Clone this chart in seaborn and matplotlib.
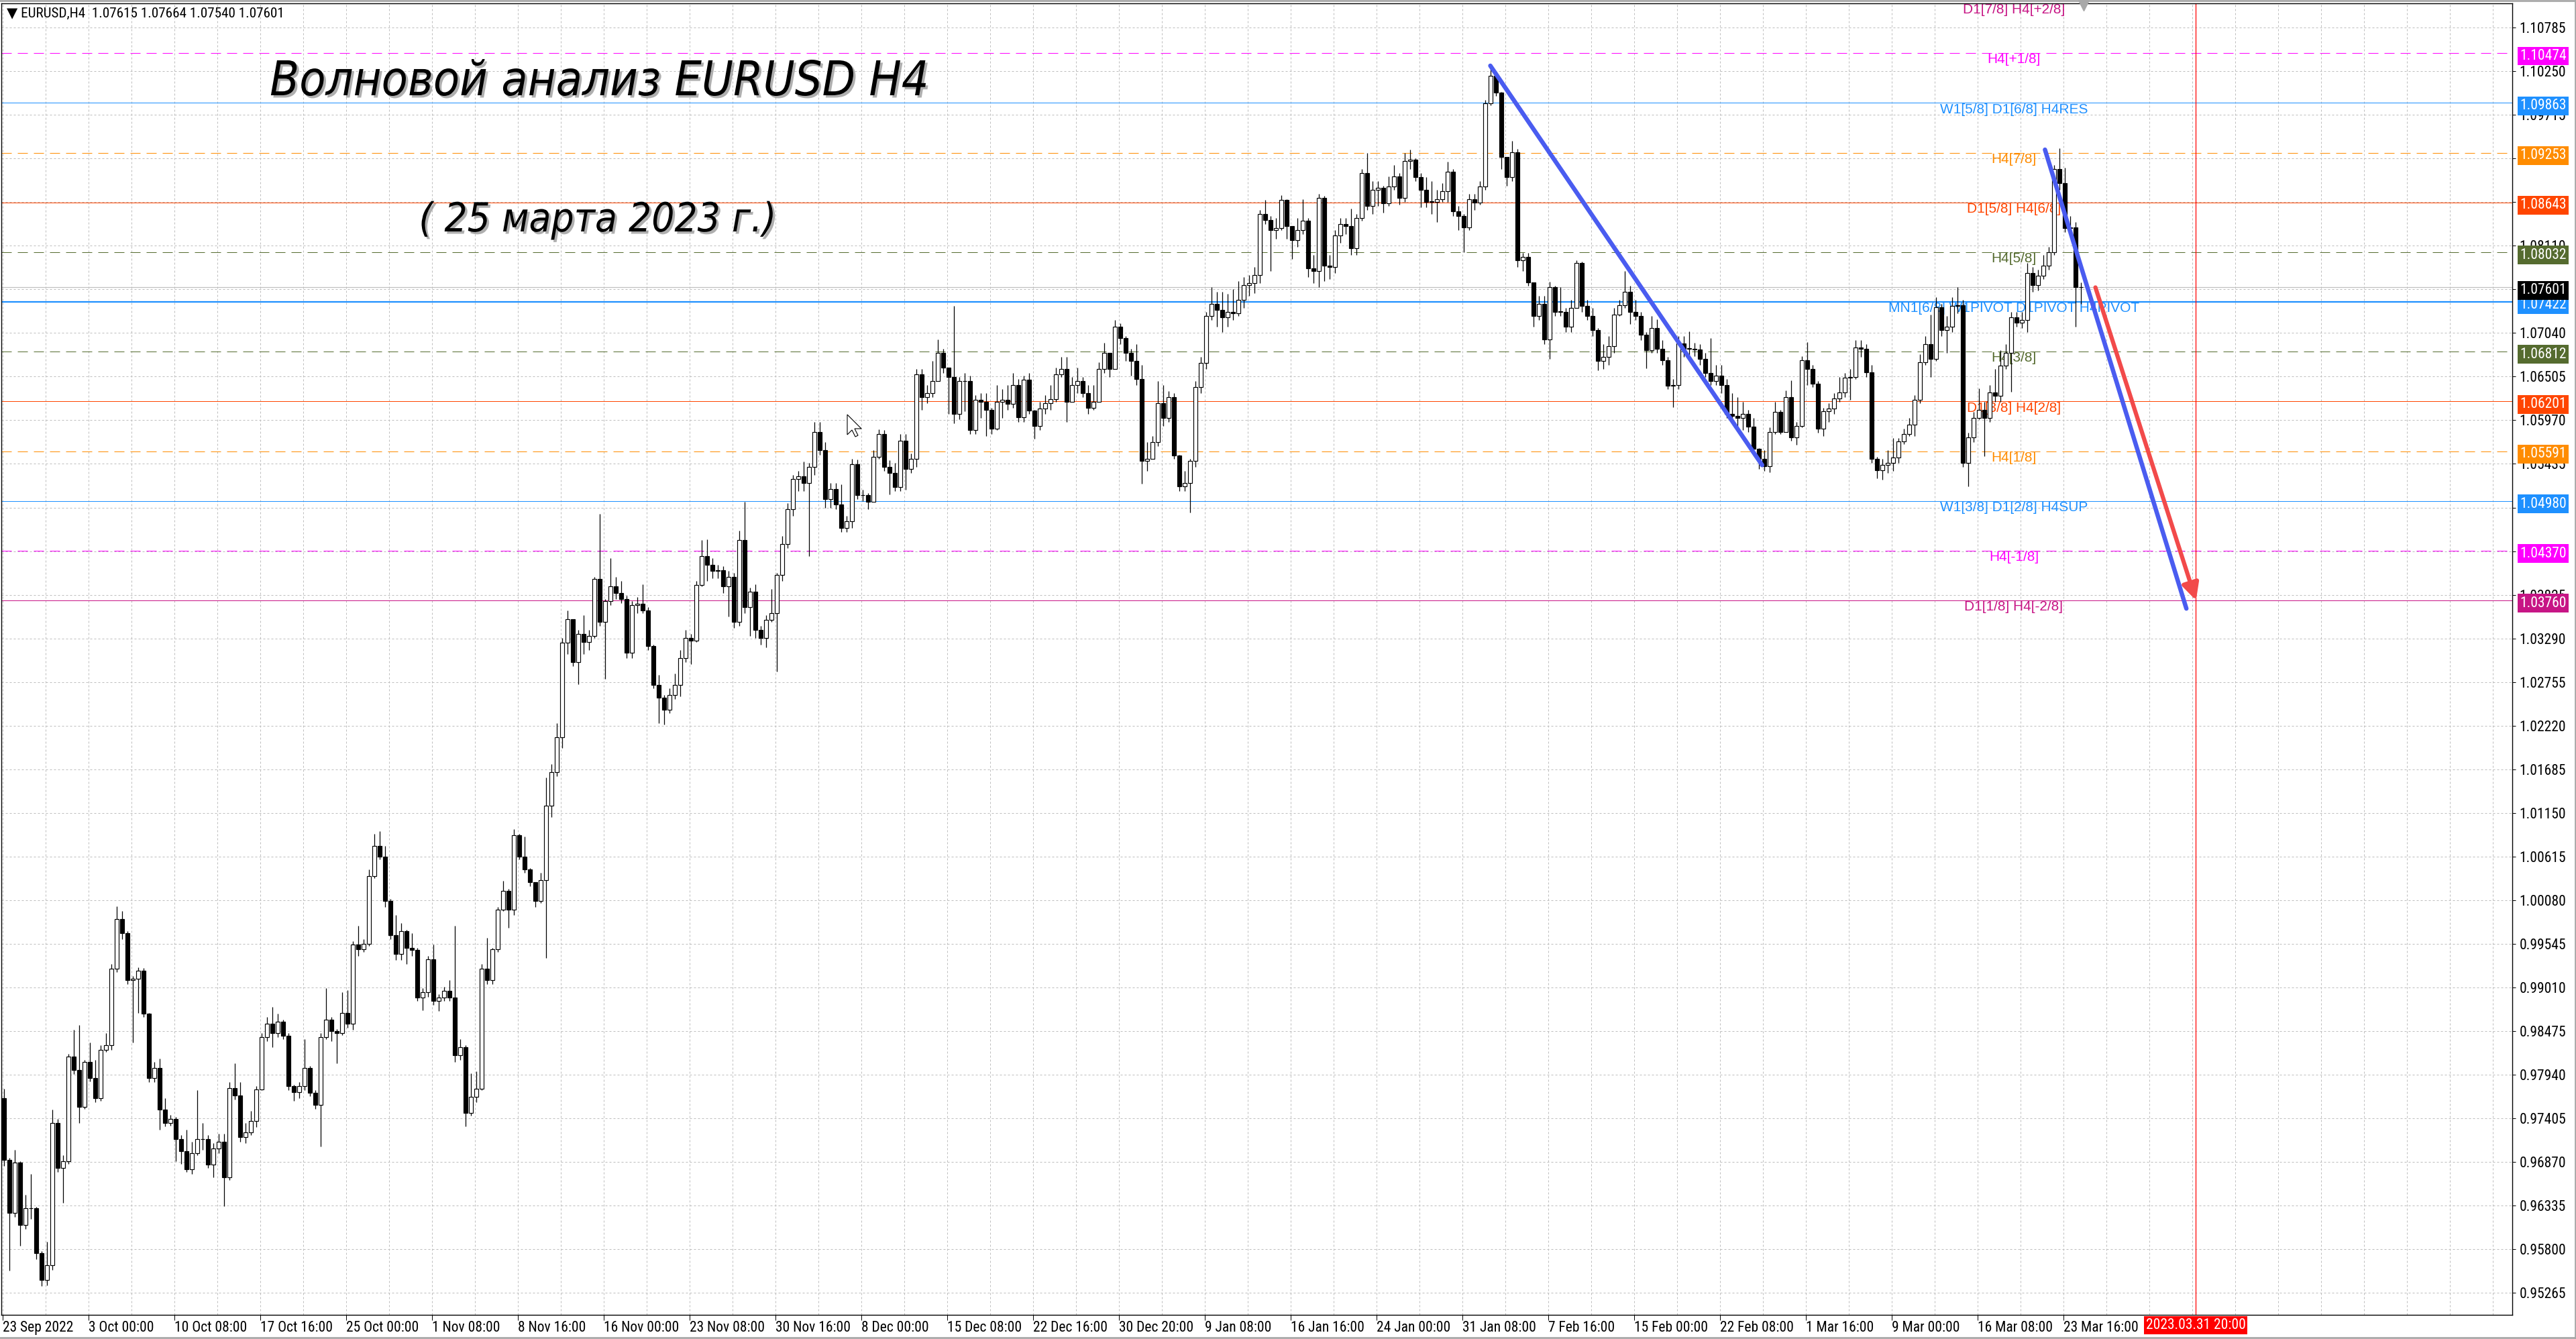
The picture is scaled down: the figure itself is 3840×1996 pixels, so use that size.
import os
import numpy as np
import pandas as pd
import matplotlib
matplotlib.use("Agg")
import matplotlib.pyplot as plt
import matplotlib.patheffects as pe
import matplotlib.transforms as mtransforms
from matplotlib import font_manager
from matplotlib.font_manager import FontProperties
from matplotlib.patches import Polygon
from matplotlib.lines import Line2D
import seaborn as sns

# ------------------------------------------------------------------ data
# EURUSD candles (each candle = two H4 bars)
OPEN_FIRST = 0.9765
CLOSE = [
    0.9690, 0.9625, 0.9686, 0.9610, 0.9630, 0.9630, 0.9575, 0.9542, 0.9560, 0.9735,
    0.9680, 0.9688, 0.9816, 0.9800, 0.9755, 0.9810, 0.9790, 0.9765, 0.9825, 0.9830,
    0.9924, 0.9985, 0.9968, 0.9910, 0.9912, 0.9922, 0.9869, 0.9790, 0.9802, 0.9751,
    0.9735, 0.9740, 0.9715, 0.9700, 0.9678, 0.9698, 0.9715, 0.9715, 0.9684, 0.9704,
    0.9712, 0.9668, 0.9778, 0.9769, 0.9718, 0.9723, 0.9737, 0.9776, 0.9840, 0.9857,
    0.9845, 0.9859, 0.9842, 0.9780, 0.9773, 0.9780, 0.9802, 0.9772, 0.9757, 0.9840,
    0.9862, 0.9848, 0.9845, 0.9870, 0.9857, 0.9954, 0.9948, 0.9955, 1.0038, 1.0075,
    1.0062, 1.0007, 0.9965, 0.9942, 0.9970, 0.9950, 0.9947, 0.9889, 0.9895, 0.9936,
    0.9885, 0.9889, 0.9897, 0.9889, 0.9818, 0.9828, 0.9747, 0.9767, 0.9777, 0.9924,
    0.9910, 0.9948, 0.9997, 1.0020, 0.9997, 1.0088, 1.0062, 1.0046, 1.0030, 1.0007,
    1.0033, 1.0124, 1.0165, 1.0208, 1.0324, 1.0353, 1.0300, 1.0335, 1.0325, 1.0332,
    1.0402, 1.0350, 1.0375, 1.0393, 1.0385, 1.0378, 1.0312, 1.0370, 1.0372, 1.0364,
    1.0320, 1.0272, 1.0257, 1.0242, 1.0260, 1.0272, 1.0305, 1.0330, 1.0327, 1.0395,
    1.0430, 1.0420, 1.0412, 1.0413, 1.0393, 1.0405, 1.0350, 1.0450, 1.0368, 1.0387,
    1.0340, 1.0330, 1.0352, 1.0360, 1.0407, 1.0445, 1.0488, 1.0525, 1.0528, 1.0520,
    1.0540, 1.0583, 1.0560, 1.0500, 1.0513, 1.0494, 1.0465, 1.0473, 1.0543, 1.0505,
    1.0505, 1.0497, 1.0552, 1.0580, 1.0540, 1.0532, 1.0515, 1.0572, 1.0537, 1.0550,
    1.0653, 1.0625, 1.0630, 1.0645, 1.0680, 1.0662, 1.0650, 1.0605, 1.0645, 1.0645,
    1.0585, 1.0622, 1.0620, 1.0610, 1.0587, 1.0620, 1.0622, 1.0617, 1.0640, 1.0601,
    1.0647, 1.0609, 1.0590, 1.0611, 1.0618, 1.0623, 1.0653, 1.0660, 1.0620, 1.0640,
    1.0645, 1.0630, 1.0612, 1.0620, 1.0660, 1.0680, 1.0660, 1.0712, 1.0698, 1.0680,
    1.0670, 1.0648, 1.0547, 1.0550, 1.0570, 1.0618, 1.0600, 1.0625, 1.0554, 1.0516,
    1.0520, 1.0547, 1.0638, 1.0667, 1.0725, 1.0740, 1.0732, 1.0723, 1.0730, 1.0728,
    1.0745, 1.0763, 1.0765, 1.0775, 1.0850, 1.0843, 1.0830, 1.0833, 1.0867, 1.0835,
    1.0818, 1.0830, 1.0842, 1.0783, 1.0780, 1.0870, 1.0787, 1.0785, 1.0824, 1.0838,
    1.0835, 1.0808, 1.0845, 1.0900, 1.0860, 1.0880, 1.0882, 1.0863, 1.0884, 1.0896,
    1.0870, 1.0915, 1.0917, 1.0895, 1.0880, 1.0865, 1.0865, 1.0868, 1.0878, 1.0902,
    1.0853, 1.0848, 1.0834, 1.0868, 1.0864, 1.0884, 1.0986, 1.1020, 1.0999, 1.0920,
    1.0895, 1.0926, 1.0793, 1.0797, 1.0766, 1.0725, 1.0740, 1.0696, 1.0760, 1.0730,
    1.0730, 1.0712, 1.0735, 1.0790, 1.0737, 1.0725, 1.0708, 1.0670, 1.0675, 1.0688,
    1.0727, 1.0738, 1.0755, 1.0730, 1.0725, 1.0702, 1.0683, 1.0710, 1.0685, 1.0671,
    1.0639, 1.0640, 1.0691, 1.0685, 1.0685, 1.0684, 1.0672, 1.0655, 1.0645, 1.0652,
    1.0640, 1.0605, 1.0602, 1.0600, 1.0605, 1.0589, 1.0562, 1.0550, 1.0541, 1.0583,
    1.0607, 1.0583, 1.0625, 1.0576, 1.0590, 1.0671, 1.0660, 1.0642, 1.0587, 1.0608,
    1.0611, 1.0624, 1.0631, 1.0649, 1.0650, 1.0686, 1.0685, 1.0656, 1.0550, 1.0536,
    1.0542, 1.0545, 1.0551, 1.0571, 1.0580, 1.0592, 1.0622, 1.0668, 1.0690, 1.0672,
    1.0736, 1.0708, 1.0712, 1.0737, 1.0738, 1.0545, 1.0576, 1.0600, 1.0610, 1.0600,
    1.0631, 1.0627, 1.0664, 1.0680, 1.0723, 1.0717, 1.0720, 1.0778, 1.0763, 1.0774,
    1.0787, 1.0803, 1.0905, 1.0888, 1.0833, 1.0834, 1.0760, 1.0760,
]
HIGH = [
    0.9777, 0.9692, 0.9702, 0.9688, 0.9647, 0.9672, 0.9632, 0.9578, 0.9589, 0.9751,
    0.9740, 0.9695, 0.9820, 0.9849, 0.9855, 0.9812, 0.9834, 0.9812, 0.9830, 0.9845,
    0.9930, 1.0001, 0.9995, 0.9970, 0.9915, 0.9926, 0.9925, 0.9870, 0.9810, 0.9814,
    0.9765, 0.9745, 0.9742, 0.9720, 0.9727, 0.9712, 0.9775, 0.9735, 0.9720, 0.9710,
    0.9722, 0.9722, 0.9785, 0.9808, 0.9785, 0.9735, 0.9750, 0.9780, 0.9845, 0.9865,
    0.9877, 0.9869, 0.9862, 0.9845, 0.9782, 0.9785, 0.9838, 0.9805, 0.9775, 0.9845,
    0.9900, 0.9865, 0.9850, 0.9895, 0.9898, 0.9958, 0.9977, 0.9960, 1.0046, 1.0090,
    1.0093, 1.0075, 1.0010, 0.9990, 0.9980, 0.9972, 0.9968, 0.9950, 0.9900, 0.9940,
    0.9954, 0.9893, 0.9902, 0.9910, 0.9977, 0.9838, 0.9830, 0.9796, 0.9798, 0.9930,
    0.9962, 0.9950, 1.0000, 1.0032, 1.0022, 1.0095, 1.0090, 1.0086, 1.0048, 1.0030,
    1.0042, 1.0159, 1.0175, 1.0225, 1.0330, 1.0364, 1.0340, 1.0340, 1.0358, 1.0340,
    1.0405, 1.0482, 1.0378, 1.0428, 1.0405, 1.0400, 1.0382, 1.0375, 1.0380, 1.0396,
    1.0368, 1.0322, 1.0285, 1.0260, 1.0268, 1.0286, 1.0315, 1.0340, 1.0335, 1.0400,
    1.0450, 1.0451, 1.0428, 1.0420, 1.0418, 1.0412, 1.0410, 1.0462, 1.0497, 1.0392,
    1.0396, 1.0345, 1.0358, 1.0390, 1.0410, 1.0455, 1.0495, 1.0530, 1.0535, 1.0546,
    1.0545, 1.0595, 1.0595, 1.0570, 1.0520, 1.0520, 1.0518, 1.0480, 1.0550, 1.0549,
    1.0512, 1.0508, 1.0560, 1.0586, 1.0585, 1.0548, 1.0545, 1.0580, 1.0580, 1.0556,
    1.0660, 1.0660, 1.0640, 1.0670, 1.0696, 1.0685, 1.0662, 1.0737, 1.0650, 1.0655,
    1.0652, 1.0628, 1.0630, 1.0630, 1.0612, 1.0640, 1.0635, 1.0640, 1.0655, 1.0648,
    1.0652, 1.0655, 1.0610, 1.0620, 1.0628, 1.0640, 1.0662, 1.0675, 1.0675, 1.0650,
    1.0662, 1.0650, 1.0640, 1.0640, 1.0668, 1.0692, 1.0680, 1.0720, 1.0716, 1.0700,
    1.0685, 1.0690, 1.0665, 1.0570, 1.0578, 1.0645, 1.0640, 1.0633, 1.0630, 1.0555,
    1.0535, 1.0550, 1.0645, 1.0675, 1.0730, 1.0760, 1.0755, 1.0755, 1.0752, 1.0758,
    1.0768, 1.0773, 1.0775, 1.0785, 1.0855, 1.0867, 1.0848, 1.0845, 1.0873, 1.0868,
    1.0830, 1.0845, 1.0868, 1.0845, 1.0800, 1.0875, 1.0872, 1.0800, 1.0830, 1.0845,
    1.0845, 1.0857, 1.0850, 1.0905, 1.0925, 1.0890, 1.0890, 1.0885, 1.0896, 1.0910,
    1.0900, 1.0925, 1.0929, 1.0918, 1.0900, 1.0895, 1.0890, 1.0880, 1.0888, 1.0914,
    1.0905, 1.0860, 1.0850, 1.0875, 1.0875, 1.0890, 1.0990, 1.1032, 1.1025, 1.1000,
    1.0920, 1.0940, 1.0930, 1.0802, 1.0802, 1.0766, 1.0750, 1.0750, 1.0767, 1.0762,
    1.0760, 1.0735, 1.0745, 1.0793, 1.0792, 1.0745, 1.0735, 1.0710, 1.0690, 1.0700,
    1.0735, 1.0745, 1.0780, 1.0762, 1.0745, 1.0730, 1.0705, 1.0725, 1.0721, 1.0695,
    1.0675, 1.0648, 1.0700, 1.0700, 1.0706, 1.0692, 1.0690, 1.0680, 1.0698, 1.0665,
    1.0665, 1.0648, 1.0630, 1.0625, 1.0620, 1.0610, 1.0600, 1.0563, 1.0560, 1.0588,
    1.0620, 1.0610, 1.0634, 1.0646, 1.0595, 1.0676, 1.0693, 1.0665, 1.0645, 1.0612,
    1.0618, 1.0630, 1.0650, 1.0655, 1.0660, 1.0695, 1.0695, 1.0690, 1.0665, 1.0552,
    1.0550, 1.0560, 1.0575, 1.0575, 1.0587, 1.0600, 1.0628, 1.0678, 1.0700, 1.0727,
    1.0748, 1.0740, 1.0725, 1.0748, 1.0760, 1.0745, 1.0582, 1.0607, 1.0636, 1.0620,
    1.0640, 1.0660, 1.0683, 1.0690, 1.0730, 1.0730, 1.0730, 1.0790, 1.0785, 1.0782,
    1.0800, 1.0810, 1.0910, 1.0931, 1.0907, 1.0848, 1.0840, 1.0766,
]
LOW = [
    0.9682, 0.9554, 0.9620, 0.9584, 0.9605, 0.9617, 0.9568, 0.9535, 0.9536, 0.9555,
    0.9675, 0.9637, 0.9685, 0.9795, 0.9735, 0.9752, 0.9786, 0.9760, 0.9762, 0.9822,
    0.9825, 0.9920, 0.9960, 0.9905, 0.9834, 0.9870, 0.9865, 0.9785, 0.9785, 0.9727,
    0.9731, 0.9732, 0.9688, 0.9685, 0.9675, 0.9672, 0.9695, 0.9702, 0.9680, 0.9668,
    0.9698, 0.9633, 0.9665, 0.9764, 0.9712, 0.9710, 0.9720, 0.9730, 0.9775, 0.9835,
    0.9828, 0.9840, 0.9838, 0.9775, 0.9762, 0.9765, 0.9775, 0.9768, 0.9752, 0.9706,
    0.9838, 0.9835, 0.9808, 0.9843, 0.9852, 0.9849, 0.9940, 0.9945, 0.9952, 1.0035,
    1.0058, 1.0000, 0.9960, 0.9935, 0.9935, 0.9930, 0.9940, 0.9885, 0.9873, 0.9890,
    0.9880, 0.9872, 0.9885, 0.9885, 0.9810, 0.9812, 0.9731, 0.9744, 0.9760, 0.9775,
    0.9905, 0.9905, 0.9945, 0.9995, 0.9974, 0.9990, 1.0058, 1.0042, 1.0025, 1.0000,
    1.0005, 0.9937, 1.0110, 1.0160, 1.0195, 1.0310, 1.0295, 1.0273, 1.0310, 1.0315,
    1.0330, 1.0345, 1.0280, 1.0370, 1.0378, 1.0373, 1.0305, 1.0305, 1.0360, 1.0360,
    1.0315, 1.0268, 1.0225, 1.0224, 1.0238, 1.0255, 1.0258, 1.0300, 1.0298, 1.0325,
    1.0393, 1.0400, 1.0403, 1.0403, 1.0385, 1.0356, 1.0342, 1.0345, 1.0360, 1.0332,
    1.0330, 1.0322, 1.0318, 1.0350, 1.0289, 1.0400, 1.0440, 1.0480, 1.0510, 1.0510,
    1.0430, 1.0530, 1.0555, 1.0490, 1.0490, 1.0488, 1.0460, 1.0460, 1.0465, 1.0500,
    1.0498, 1.0488, 1.0497, 1.0550, 1.0535, 1.0506, 1.0510, 1.0510, 1.0512, 1.0532,
    1.0540, 1.0610, 1.0618, 1.0625, 1.0645, 1.0655, 1.0605, 1.0593, 1.0598, 1.0608,
    1.0580, 1.0580, 1.0600, 1.0578, 1.0580, 1.0585, 1.0600, 1.0610, 1.0612, 1.0595,
    1.0595, 1.0605, 1.0574, 1.0585, 1.0605, 1.0610, 1.0620, 1.0650, 1.0595, 1.0620,
    1.0630, 1.0625, 1.0605, 1.0610, 1.0620, 1.0655, 1.0650, 1.0660, 1.0690, 1.0670,
    1.0652, 1.0640, 1.0519, 1.0535, 1.0550, 1.0565, 1.0590, 1.0595, 1.0550, 1.0510,
    1.0510, 1.0484, 1.0540, 1.0630, 1.0660, 1.0720, 1.0712, 1.0705, 1.0712, 1.0720,
    1.0725, 1.0735, 1.0750, 1.0753, 1.0765, 1.0838, 1.0780, 1.0820, 1.0830, 1.0820,
    1.0795, 1.0810, 1.0825, 1.0773, 1.0765, 1.0760, 1.0768, 1.0770, 1.0778, 1.0815,
    1.0825, 1.0800, 1.0800, 1.0842, 1.0855, 1.0850, 1.0860, 1.0852, 1.0860, 1.0880,
    1.0862, 1.0865, 1.0905, 1.0890, 1.0858, 1.0858, 1.0850, 1.0840, 1.0865, 1.0865,
    1.0848, 1.0830, 1.0803, 1.0830, 1.0855, 1.0862, 1.0880, 1.0983, 1.0995, 1.0905,
    1.0885, 1.0890, 1.0785, 1.0780, 1.0762, 1.0712, 1.0720, 1.0690, 1.0672, 1.0725,
    1.0725, 1.0705, 1.0705, 1.0735, 1.0730, 1.0720, 1.0700, 1.0658, 1.0660, 1.0665,
    1.0680, 1.0725, 1.0735, 1.0715, 1.0720, 1.0695, 1.0661, 1.0680, 1.0680, 1.0665,
    1.0635, 1.0613, 1.0635, 1.0675, 1.0675, 1.0676, 1.0665, 1.0650, 1.0640, 1.0640,
    1.0630, 1.0600, 1.0595, 1.0588, 1.0585, 1.0583, 1.0555, 1.0537, 1.0535, 1.0533,
    1.0580, 1.0580, 1.0590, 1.0572, 1.0567, 1.0588, 1.0640, 1.0638, 1.0582, 1.0578,
    1.0595, 1.0605, 1.0620, 1.0625, 1.0622, 1.0648, 1.0675, 1.0650, 1.0545, 1.0526,
    1.0524, 1.0532, 1.0535, 1.0545, 1.0568, 1.0578, 1.0578, 1.0618, 1.0665, 1.0650,
    1.0670, 1.0700, 1.0680, 1.0705, 1.0728, 1.0540, 1.0516, 1.0570, 1.0598, 1.0553,
    1.0595, 1.0620, 1.0620, 1.0660, 1.0632, 1.0712, 1.0710, 1.0705, 1.0755, 1.0756,
    1.0770, 1.0782, 1.0800, 1.0880, 1.0828, 1.0828, 1.0712, 1.0740,
]

X_TICK_LABELS = [
    "23 Sep 2022", "3 Oct 00:00", "10 Oct 08:00", "17 Oct 16:00", "25 Oct 00:00",
    "1 Nov 08:00", "8 Nov 16:00", "16 Nov 00:00", "23 Nov 08:00", "30 Nov 16:00",
    "8 Dec 00:00", "15 Dec 08:00", "22 Dec 16:00", "30 Dec 20:00", "9 Jan 08:00",
    "16 Jan 16:00", "24 Jan 00:00", "31 Jan 08:00", "7 Feb 16:00", "15 Feb 00:00",
    "22 Feb 08:00", "1 Mar 16:00", "9 Mar 00:00", "16 Mar 08:00", "23 Mar 16:00",
]
FUTURE_LABEL = "2023.03.31 20:00"
FUTURE_BAR = 817.25

Y_TICK_LABELS = [
    "0.95265", "0.95800", "0.96335", "0.96870", "0.97405", "0.97940", "0.98475",
    "0.99010", "0.99545", "1.00080", "1.00615", "1.01150", "1.01685", "1.02220",
    "1.02755", "1.03290", "1.03825", "1.04360", "1.04900", "1.05435", "1.05970",
    "1.06505", "1.07040", "1.07575", "1.08110", "1.08645", "1.09180", "1.09715",
    "1.10250", "1.10785",
]
# tick labels that the price boxes cover completely in the picture
Y_TICKS_COVERED = ["1.04360", "1.04900", "1.07575", "1.08645", "1.09180"]

LEVEL_PRICES = [1.10474, 1.09863, 1.09253, 1.08643, 1.08032, 1.07422,
                1.06812, 1.06201, 1.05591, 1.04980, 1.04370, 1.03760]
LEVEL_NAMES = ["H4[+1/8]", "W1[5/8] D1[6/8] H4RES", "H4[7/8]", "D1[5/8] H4[6/8]",
               "H4[5/8]", "MN1[6/8] W1PIVOT D1PIVOT H4PIVOT", "H4[3/8]",
               "D1[3/8] H4[2/8]", "H4[1/8]", "W1[3/8] D1[2/8] H4SUP", "H4[-1/8]",
               "D1[1/8] H4[-2/8]"]
TOP_LEVEL_PRICE = 1.11084
TOP_LEVEL_NAME = "D1[7/8] H4[+2/8]"
LAST_PRICE = 1.07601
HEADER = "▼ EURUSD,H4  1.07615 1.07664 1.07540 1.07601"

TREND1_BARS, TREND1_PRICES = [554.4, 655.7], [1.1032, 1.0542]
TREND2_BARS, TREND2_PRICES = [761.1, 813.8], [1.0929, 1.0366]
ARROW_BARS, ARROW_PRICES = [779.9, 817.4], [1.0760, 1.0376]

TITLE = "Волновой анализ EURUSD H4"
SUBTITLE = "( 25 марта 2023 г.)"

# ------------------------------------------------------------------ styles
C_MAG, C_BLUE, C_ORG, C_ORED, C_OLIVE, C_MVR = ("#FF00FF", "#1E90FF", "#FF8C00",
                                                "#FF4500", "#556B2F", "#C71585")
LEVEL_COLORS = [C_MAG, C_BLUE, C_ORG, C_ORED, C_OLIVE, C_BLUE,
                C_OLIVE, C_ORED, C_ORG, C_BLUE, C_MAG, C_MVR]
LEVEL_DASHED = [True, False, True, False, True, False,
                True, False, True, False, True, False]
LEVEL_WIDTH = [0.72, 0.72, 0.72, 0.72, 0.72, 1.6,
               0.72, 0.72, 0.72, 0.72, 0.72, 0.72]
TREND_BLUE = "#4A5CF0"
ARROW_RED = "#F24A4A"

sns.set_theme(style="white")

avail = {f.name for f in font_manager.fontManager.ttflist}


def pick(*names):
    for n in names:
        if n in avail:
            return n
    return "DejaVu Sans"


NARROW = pick("Liberation Sans Narrow", "DejaVu Sans Condensed", "Roboto Condensed",
              "Liberation Sans")
if "Narrow" in NARROW:
    FS_UI = 18
elif "Condensed" in NARROW:
    FS_UI = 15.5
else:
    FS_UI = 14.5
ARIAL = pick("Liberation Sans", "Arimo", "DejaVu Sans")

# a condensed oblique face for the hand-written looking title, if installed
cond_files = [f.fname for f in font_manager.fontManager.ttflist
              if os.path.basename(f.fname) == "DejaVuSansCondensed-Oblique.ttf"]
if cond_files:
    TITLE_FP = FontProperties(fname=cond_files[0])
else:
    TITLE_FP = FontProperties(family="DejaVu Sans", style="oblique")

plt.rcParams["font.family"] = [NARROW, "DejaVu Sans"]
plt.rcParams["axes.unicode_minus"] = False

W, HP = 3840, 1996
fig = plt.figure(figsize=(W / 100, HP / 100), dpi=100, facecolor="white")
ax = fig.add_axes([2 / W, 1 - 1960 / HP, 3743 / W, 1955 / HP])
ax.set_facecolor("white")
ax.set_xlim(-0.5, 935.25)
ax.set_ylim(0.94995, 1.11085)

# grid
grid_kw = dict(color="#BDBDBD", linewidth=0.72, linestyle=(0, (3, 3)))
ax.set_xticks(np.arange(0, 936, 16), minor=True)
ax.set_xticks(np.arange(len(X_TICK_LABELS)) * 32)
ax.set_xticklabels(X_TICK_LABELS)
ax.xaxis.grid(True, which="both", **grid_kw)
ytick_vals = [float(s) for s in Y_TICK_LABELS]
ax.set_yticks(ytick_vals)
ax.set_yticklabels(["" if s in Y_TICKS_COVERED else s for s in Y_TICK_LABELS])
ax.yaxis.grid(True, which="major", **grid_kw)
ax.set_axisbelow(True)

ax.tick_params(axis="y", which="major", left=False, right=True, labelleft=False,
               labelright=True, direction="out", length=3.6, width=0.72, pad=4,
               labelsize=FS_UI, colors="black")
ax.tick_params(axis="x", which="major", bottom=True, direction="out", length=5.8,
               width=0.72, pad=0.5, labelsize=FS_UI, colors="black")
ax.tick_params(axis="x", which="minor", bottom=False, length=0)
for t in ax.get_xticklabels():
    t.set_horizontalalignment("left")
for sp in ax.spines.values():
    sp.set_color("black")
    sp.set_linewidth(1.0)
    sp.set_visible(True)

# level lines and labels
for price, name, col, dashed, lw in zip(LEVEL_PRICES, LEVEL_NAMES, LEVEL_COLORS,
                                        LEVEL_DASHED, LEVEL_WIDTH):
    ls = (0, (15, 9)) if dashed else "-"
    ax.axhline(price, color=col, linewidth=lw, linestyle=ls, zorder=1.5)
    ax.text(749.5, price - 0.0008, name, color=col, fontsize=15, family=ARIAL,
            ha="center", va="center", zorder=2)
ax.text(749.5, TOP_LEVEL_PRICE - 0.0008, TOP_LEVEL_NAME, color=C_MVR, fontsize=15,
        family=ARIAL, ha="center", va="center", zorder=2)
ax.axhline(LAST_PRICE, color="#C0C0C0", linewidth=0.9, zorder=1.5)
ax.axvline(FUTURE_BAR, color="#FF0000", linewidth=0.9, zorder=1.6)

# candles
O = np.array([OPEN_FIRST] + CLOSE[:-1])
C = np.array(CLOSE)
H = np.maximum(np.array(HIGH), np.maximum(O, C))
L = np.minimum(np.array(LOW), np.minimum(O, C))
xs = np.arange(len(C)) * 2 + 0.5
up = C >= O
ax.vlines(xs, L, H, color="black", linewidth=0.9, zorder=3)
ax.bar(xs, np.maximum(np.abs(C - O), 0.00004), bottom=np.minimum(O, C), width=1.45,
       color=np.where(up, "white", "black"), edgecolor="black", linewidth=0.85,
       zorder=4)

# trend lines (seaborn) and red arrow
for bx, py in ((TREND1_BARS, TREND1_PRICES), (TREND2_BARS, TREND2_PRICES)):
    sns.lineplot(x=bx, y=py, ax=ax, color=TREND_BLUE, linewidth=4.7, sort=False,
                 estimator=None, legend=False, solid_capstyle="round", zorder=5)
ax.annotate("", xy=(ARROW_BARS[1], ARROW_PRICES[1]),
            xytext=(ARROW_BARS[0], ARROW_PRICES[0]),
            arrowprops=dict(arrowstyle="-|>,head_length=0.5,head_width=0.25",
                            color=ARROW_RED, lw=4.5, mutation_scale=30,
                            shrinkA=0, shrinkB=0, capstyle="round"),
            zorder=6)
ax.set_xlabel("")
ax.set_ylabel("")

# gray "shift" triangle at top
ax.plot([775.5], [1.1106], marker="v", ms=11, color="#A8A8A8", clip_on=False,
        zorder=10)

# price boxes on the right axis (sitting just below their line)
ybl = mtransforms.blended_transform_factory(ax.transAxes, ax.transData)
box_prices = LEVEL_PRICES + [LAST_PRICE]
box_colors = LEVEL_COLORS + ["black"]
for price, col in zip(box_prices, box_colors):
    ax.text(1 + 11 / 3743, price - 0.00035, f"{price:.5f}", transform=ybl,
            color="white", fontsize=FS_UI, ha="left", va="center", zorder=20,
            clip_on=False,
            bbox=dict(boxstyle="square,pad=0.16", fc=col, ec="none"))

# future date box on x axis
xbl = mtransforms.blended_transform_factory(ax.transData, ax.transAxes)
ax.text(FUTURE_BAR, -5 / 1955, FUTURE_LABEL, transform=xbl, color="white",
        fontsize=FS_UI, ha="center", va="top", zorder=20, clip_on=False,
        bbox=dict(boxstyle="square,pad=0.12", fc="#FF0000", ec="none"))

# header
fig.text(10 / W, 1 - 20 / HP, HEADER, fontsize=FS_UI * 0.98, ha="left", va="center",
         family=[NARROW, "DejaVu Sans"], color="black")

# titles with shadow, sized to the reference widths
shadow = [pe.SimplePatchShadow(offset=(2.5, -2.5), shadow_rgbFace="#6E6E6E",
                               alpha=0.55), pe.Normal()]
t1 = fig.text(893 / W, 1 - 142 / HP, TITLE, fontproperties=TITLE_FP, fontsize=47,
              ha="center", va="baseline", color="black", path_effects=shadow)
t2 = fig.text(891 / W, 1 - 345 / HP, SUBTITLE, fontproperties=TITLE_FP, fontsize=39,
              ha="center", va="baseline", color="black", path_effects=shadow)
renderer = fig.canvas.get_renderer()
for t, target in ((t1, 982.0), (t2, 533.0)):
    wpx = t.get_window_extent(renderer).width
    if wpx > 0:
        t.set_fontsize(t.get_fontsize() * target / wpx)

# mouse cursor
tipx, tipy = 1263, HP - 618
cur = [(0, 0), (0, 30), (7, 23), (12, 33), (16, 31), (11, 21), (21, 21)]
fig.add_artist(Polygon([(tipx + dx, tipy - dy) for dx, dy in cur], closed=True,
                       fc="white", ec="black", lw=0.8,
                       transform=mtransforms.IdentityTransform(), zorder=30))

# window frame
frame = "#A8A8A8"
fig.add_artist(Line2D([0, 1], [1 - 1993.5 / HP] * 2, color=frame, lw=2,
                      transform=fig.transFigure))
fig.add_artist(Line2D([1 - 1.5 / W] * 2, [0, 1], color=frame, lw=2,
                      transform=fig.transFigure))
fig.add_artist(Line2D([0, 1], [1 - 1 / HP] * 2, color=frame, lw=2,
                      transform=fig.transFigure))

fig.savefig("out.png", dpi=100, facecolor="white")
